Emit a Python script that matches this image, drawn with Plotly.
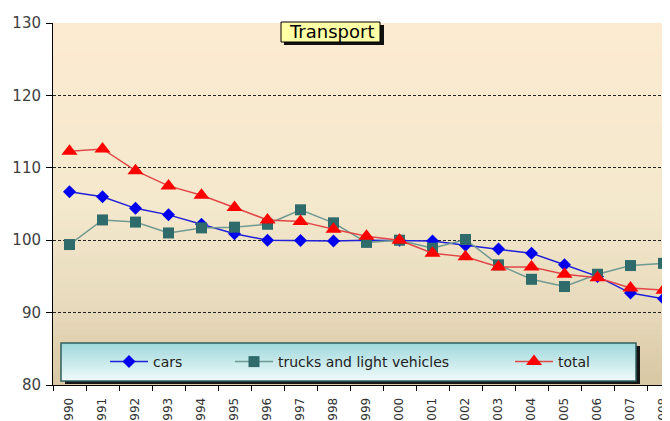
import plotly.graph_objects as go

years = ["1990", "1991", "1992", "1993", "1994", "1995", "1996", "1997", "1998", "1999",
         "2000", "2001", "2002", "2003", "2004", "2005", "2006", "2007", "2008"]
cars = [106.7, 106.0, 104.4, 103.5, 102.2, 100.9, 100.0, 99.95, 99.9, 100.0,
        100.0, 99.9, 99.3, 98.8, 98.2, 96.6, 95.0, 92.7, 91.9]
trucks = [99.4, 102.8, 102.5, 101.0, 101.7, 101.8, 102.2, 104.2, 102.4, 99.7,
          100.0, 98.9, 100.1, 96.6, 94.6, 93.6, 95.3, 96.5, 96.8]
total = [112.3, 112.6, 109.6, 107.5, 106.2, 104.5, 102.8, 102.6, 101.5, 100.55,
         100.0, 98.2, 97.7, 96.3, 96.3, 95.3, 94.8, 93.4, 93.1]

# page body has an 8px margin, so the figure is shrunk to fill the 670x421 window
OFF = 8
W, H = 670 - OFF, 421 - OFF
L, T, B = 53 - OFF, 23 - OFF, 36
PW = W - L
PH = H - T - B
PLOT_LEFT = 53     # window pixel of plot left edge
PLOT_BOTTOM = 385  # window pixel of plot bottom edge


def px_x(x):
    return (x - PLOT_LEFT) / PW


def px_y(y):
    return (PLOT_BOTTOM - y) / PH


def lerp_color(stops, t):
    for i in range(len(stops) - 1):
        t0, c0 = stops[i]
        t1, c1 = stops[i + 1]
        if t0 <= t <= t1:
            f = (t - t0) / (t1 - t0) if t1 > t0 else 0
            rgb = [round(c0[k] + (c1[k] - c0[k]) * f) for k in range(3)]
            return "rgb(%d,%d,%d)" % tuple(rgb)
    c = stops[-1][1]
    return "rgb(%d,%d,%d)" % tuple(c)


shapes = []
# plot background gradient (top -> bottom)
bg_stops = [(0.0, (252, 235, 209)), (0.5, (244, 232, 205)), (0.78, (232, 219, 189)), (1.0, (216, 199, 163))]
n = 60
for i in range(n):
    t = (i + 0.5) / n
    shapes.append(dict(type="rect", xref="paper", yref="paper",
                       x0=0, x1=1, y0=max(0, 1 - (i + 1) / n), y1=min(1, 1 - i / n + 1.5 / PH),
                       fillcolor=lerp_color(bg_stops, t), line=dict(width=0), layer="below"))

# legend box shadow and gradient box
shapes.append(dict(type="rect", xref="paper", yref="paper",
                   x0=px_x(65), x1=px_x(640), y0=px_y(384), y1=px_y(346),
                   fillcolor="#151515", line=dict(width=0), layer="above"))
lg_stops = [(0.0, (160, 216, 220)), (1.0, (240, 250, 250))]
m = 19
lx0, lx1, ly0, ly1 = 61, 636, 343, 381
for i in range(m):
    t = (i + 0.5) / m
    top = ly0 + (ly1 - ly0) * i / m
    bot = min(ly1, ly0 + (ly1 - ly0) * (i + 1) / m + 1.5)
    shapes.append(dict(type="rect", xref="paper", yref="paper",
                       x0=px_x(lx0), x1=px_x(lx1), y0=px_y(bot), y1=px_y(top),
                       fillcolor=lerp_color(lg_stops, t), line=dict(width=0), layer="above"))
shapes.append(dict(type="rect", xref="paper", yref="paper",
                   x0=px_x(lx0), x1=px_x(lx1), y0=px_y(ly1), y1=px_y(ly0),
                   fillcolor="rgba(0,0,0,0)", line=dict(color="#2F5F5F", width=1.5), layer="above"))

# title box shadow and box
shapes.append(dict(type="rect", xref="paper", yref="paper",
                   x0=px_x(284), x1=px_x(384), y0=px_y(45), y1=px_y(25),
                   fillcolor="#111111", line=dict(width=0), layer="above"))
shapes.append(dict(type="rect", xref="paper", yref="paper",
                   x0=px_x(281), x1=px_x(380), y0=px_y(42), y1=px_y(22),
                   fillcolor="#FFFFA6", line=dict(color="black", width=1), layer="above"))

fig = go.Figure()
fig.add_trace(go.Scatter(x=years, y=cars, name="cars", mode="lines+markers",
                         line=dict(color="#2020D8", width=1.5),
                         marker=dict(symbol="diamond", size=10, color="#0000EE"),
                         legend="legend"))
fig.add_trace(go.Scatter(x=years, y=trucks, name="trucks and light vehicles", mode="lines+markers",
                         line=dict(color="#6F9A92", width=1.5),
                         marker=dict(symbol="square", size=11, color="#2F6B6B"),
                         legend="legend2"))
fig.add_trace(go.Scatter(x=years, y=total, name="total", mode="lines+markers",
                         line=dict(color="#E04848", width=1.5),
                         marker=dict(symbol="triangle-up", size=14, color="#FF0000"),
                         legend="legend3"))

font_family = "DejaVu Sans"
leg_common = dict(orientation="h", yanchor="middle", y=px_y(362), xanchor="left",
                  bgcolor="rgba(0,0,0,0)", borderwidth=0, itemwidth=38,
                  font=dict(family=font_family, size=14, color="#222222"))

fig.update_layout(
    width=W, height=H,
    margin=dict(l=L, r=0, t=T, b=B, autoexpand=False),
    paper_bgcolor="white",
    plot_bgcolor="#F4E8CD",
    showlegend=True,
    legend=dict(x=px_x(105), **leg_common),
    legend2=dict(x=px_x(230), **leg_common),
    legend3=dict(x=px_x(510), **leg_common),
    shapes=shapes,
    annotations=[dict(text="Transport", xref="paper", yref="paper",
                      x=px_x(331), y=px_y(32), xanchor="center", yanchor="middle",
                      showarrow=False, font=dict(family=font_family, size=18, color="black"))],
    xaxis=dict(type="category", range=[-0.5, PW / 33 - 0.5],
               showgrid=False, showline=True, linecolor="black", linewidth=1,
               ticks="outside", ticklen=5, tickcolor="black", tickson="boundaries",
               tickangle=-90, ticklabelstandoff=7,
               tickfont=dict(family=font_family, size=12, color="#303030"),
               automargin=False, zeroline=False, fixedrange=True),
    yaxis=dict(range=[80, 130], dtick=10, tick0=80,
               showgrid=True, gridcolor="#222222", gridwidth=1, griddash="3px,2px",
               showline=True, linecolor="black", linewidth=1,
               ticks="outside", ticklen=6, tickcolor="black", ticklabelstandoff=2,
               tickfont=dict(family=font_family, size=15, color="#404040"),
               automargin=False, zeroline=False, fixedrange=True),
)

fig.write_html("out.html")
